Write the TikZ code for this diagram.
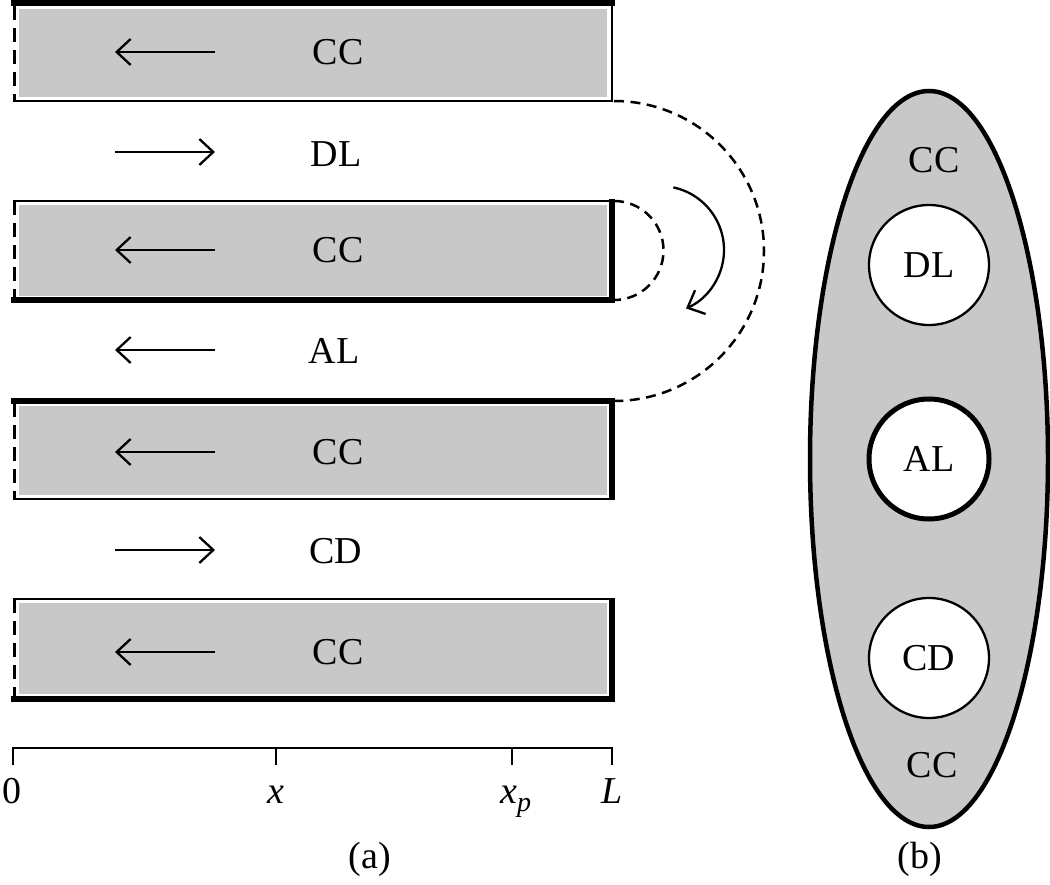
\documentclass[tikz,border=0pt]{standalone}
\usepackage{fontspec}
\setmainfont{Liberation Serif}
\usetikzlibrary{arrows.meta}
\definecolor{ccgray}{RGB}{200,200,200}
\begin{document}
\begin{tikzpicture}[x=1pt,y=-1pt,
  lbl/.style={font=\fontsize{38}{44}\selectfont, inner sep=0pt},
  thickline/.style={line width=6pt},
  thinline/.style={line width=2.5pt},
  dashline/.style={line width=3pt, dash pattern=on 14pt off 8pt},
  arcdash/.style={line width=2.5pt, dash pattern=on 10pt off 6.5pt},
  flow/.style={line width=2.3pt, -{Straight Barb[length=14pt,width=26pt,line width=2.3pt]}},
  hole/.style={circle, draw, fill=white, minimum size=120pt, inner sep=0pt, font=\fontsize{38}{44}\selectfont},
]
\useasboundingbox (0,0) rectangle (1050,885);

% ---------- rectangles (gray fills) ----------
\fill[ccgray] (19,9) rectangle (607,97);
\fill[ccgray] (19,205) rectangle (607,296);
\fill[ccgray] (19,406) rectangle (607,495);
\fill[ccgray] (19,603) rectangle (607,694);

% rect 1
\draw[thickline] (11,3) -- (615,3);
\draw[thinline] (612,3) -- (612,101);
\draw[thinline] (13,101) -- (613,101);
\draw[dashline] (14,6) -- (14,101);
% rect 2
\draw[thinline] (13,201) -- (612,201);
\draw[thickline] (11,300) -- (615,300);
\draw[thickline] (612,199) -- (612,303);
\draw[dashline] (14,201) -- (14,298);
% rect 3
\draw[thickline] (11,401) -- (615,401);
\draw[thinline] (13,499) -- (612,499);
\draw[thickline] (612,398) -- (612,500);
\draw[dashline] (14,403) -- (14,499);
% rect 4
\draw[thinline] (13,599) -- (612,599);
\draw[thickline] (11,699) -- (615,699);
\draw[thickline] (612,598) -- (612,702);
\draw[dashline] (14,599) -- (14,697);

% ---------- labels ----------
\node[lbl] (cc1) at (338,52) {CC};
\node[lbl] (dl) at (336,154) {DL};
\node[lbl] (cc2) at (338,250) {CC};
\node[lbl] (al) at (334,351) {AL};
\node[lbl] (cc3) at (338,452) {CC};
\node[lbl] (cd) at (336,551) {CD};
\node[lbl] (cc4) at (338,652) {CC};

% ---------- flow arrows ----------
\coordinate (a1s) at (215,52);  \coordinate (a1e) at (115,52);
\coordinate (a2s) at (115,152); \coordinate (a2e) at (215,152);
\coordinate (a3s) at (215,250); \coordinate (a3e) at (115,250);
\coordinate (a4s) at (215,350); \coordinate (a4e) at (115,350);
\coordinate (a5s) at (215,452); \coordinate (a5e) at (115,452);
\coordinate (a6s) at (115,550); \coordinate (a6e) at (215,550);
\coordinate (a7s) at (215,652); \coordinate (a7e) at (115,652);
\draw[flow] (a1s) -- (a1e);
\draw[flow] (a2s) -- (a2e);
\draw[flow] (a3s) -- (a3e);
\draw[flow] (a4s) -- (a4e);
\draw[flow] (a5s) -- (a5e);
\draw[flow] (a6s) -- (a6e);
\draw[flow] (a7s) -- (a7e);

% ---------- dashed arcs and curved arrow ----------
\coordinate (outerS) at (614,101);
\coordinate (innerS) at (614,201);
\draw[arcdash] (outerS) arc[start angle=-90, end angle=90, radius=150];
\draw[arcdash] (innerS) arc[start angle=-90, end angle=90, radius=49.5];
\coordinate (turnS) at (673.3,187.4);
\draw[flow] (turnS) arc[start angle=-78, end angle=66, radius=64];

% ---------- axis ----------
\coordinate (ax0) at (13,748);
\coordinate (axL) at (612,748);
\draw[thinline] (13,765) -- (ax0) -- (axL) -- (612,765);
\draw[thinline] (276,748) -- (276,765);
\draw[thinline] (512,748) -- (512,765);
\node[lbl, anchor=base] (t0) at (12,803) {0};
\node[lbl, anchor=base] (tx) at (276,803) {\textit{x}};
\node[lbl, anchor=base west] (txp) at (500,803) {\textit{x}\raisebox{-8pt}{\fontsize{28}{30}\selectfont\textit{p}}};
\node[lbl, anchor=base] (tL) at (612,803) {\textit{L}};
\node[lbl, anchor=base] (capa) at (370,868) {(a)};
\node[lbl, anchor=base] (capb) at (920,868) {(b)};

% ---------- cross section (b) ----------
\draw[line width=4.5pt, fill=ccgray] (929,459) ellipse[x radius=119, y radius=368];
\node[lbl] (ccTop) at (934,160) {CC};
\node[lbl] (ccBot) at (932,765) {CC};
\node[hole, line width=2.3pt] (dlc) at (929,265) {DL};
\node[hole, line width=5pt] (alc) at (929,459) {AL};
\node[hole, line width=2.3pt] (cdc) at (929,658) {CD};
\end{tikzpicture}
\end{document}
